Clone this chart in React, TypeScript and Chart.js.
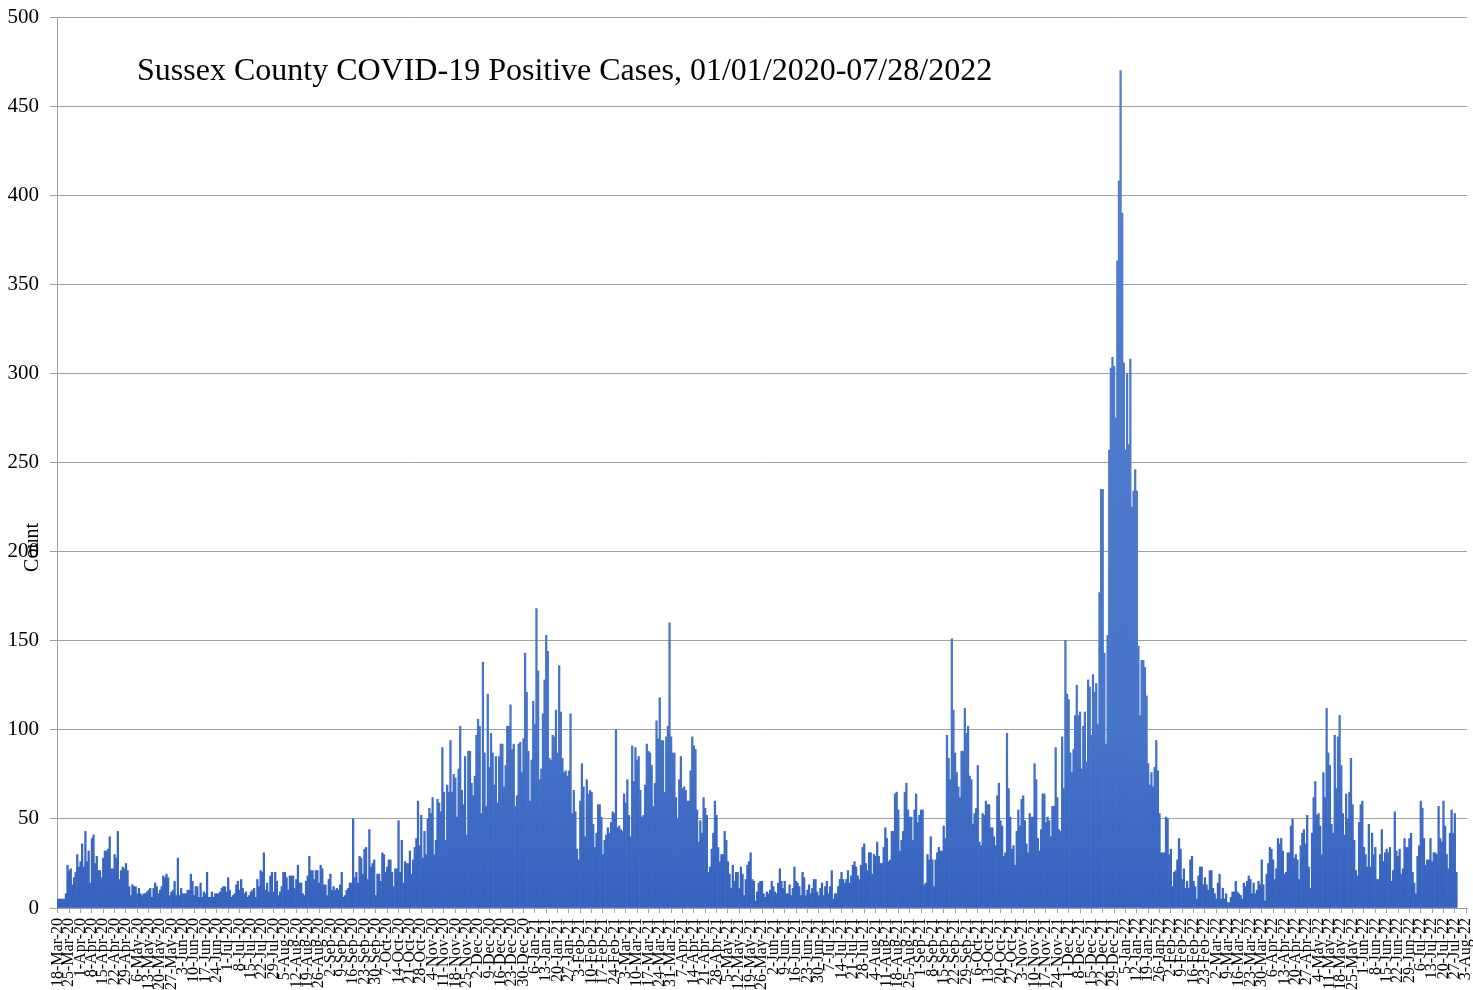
import { useEffect, useRef } from 'react';
import { Chart, registerables } from 'chart.js';

Chart.register(...registerables);

// ---- text ----
const CHART_TITLE = 'Sussex County COVID-19 Positive Cases, 01/01/2020-07/28/2022';
const Y_AXIS_TITLE = 'Count';

// ---- category axis: one category per day, 18-Mar-20 .. 3-Aug-22 ----
const MONTHS = ['Jan', 'Feb', 'Mar', 'Apr', 'May', 'Jun', 'Jul', 'Aug', 'Sep', 'Oct', 'Nov', 'Dec'];
const AXIS_START = Date.UTC(2020, 2, 18);
const AXIS_DAYS = 869;
const LABEL_EVERY = 7;
const categories: string[] = [];
for (let i = 0; i < AXIS_DAYS; i++) {
  const d = new Date(AXIS_START + i * 86400000);
  categories.push(`${d.getUTCDate()}-${MONTHS[d.getUTCMonth()]}-${String(d.getUTCFullYear()).slice(2)}`);
}

// ---- daily positive cases ----
// 18-Mar-20 .. 8-Aug-20
const casesMar20Aug20 = [
  5, 5, 5, 5, 5, 8, 24, 21, 22, 13,
  17, 20, 30, 23, 26, 36, 23, 43, 26, 32,
  14, 39, 41, 25, 29, 21, 21, 17, 28, 32,
  32, 33, 40, 22, 22, 30, 28, 43, 16, 21,
  23, 22, 25, 21, 12, 7, 13, 12, 12, 8,
  11, 8, 7, 8, 8, 9, 10, 11, 6, 11,
  14, 12, 8, 10, 12, 18, 17, 19, 17, 7,
  9, 10, 15, 7, 28, 7, 11, 8, 8, 8,
  10, 10, 19, 15, 7, 12, 12, 6, 14, 6,
  9, 8, 20, 6, 6, 9, 6, 8, 8, 8,
  9, 11, 12, 12, 9, 17, 10, 6, 7, 8,
  13, 15, 10, 16, 11, 8, 9, 6, 7, 9,
  10, 11, 6, 16, 12, 21, 20, 31, 10, 14,
  9, 18, 20, 9, 20, 15, 7, 9, 12, 20,
  20, 17, 10, 18,
];
// 9-Aug-20 .. 9-Nov-20
const casesAug20Nov20 = [
  18, 18, 11, 16, 24, 14, 14, 8, 7, 15,
  18, 29, 21, 21, 16, 21, 21, 14, 24, 22,
  13, 13, 7, 16, 19, 10, 12, 10, 11, 10,
  13, 20, 6, 7, 10, 11, 14, 14, 50, 17,
  20, 14, 29, 28, 19, 33, 34, 16, 44, 23,
  25, 27, 7, 19, 19, 15, 31, 30, 20, 23,
  27, 27, 20, 12, 22, 22, 49, 20, 38, 14,
  26, 25, 25, 32, 19, 27, 34, 39, 60, 35,
  52, 28, 43, 30, 50, 56, 53, 62, 30, 38,
  61, 59, 54,
];
// 10-Nov-20 .. 15-Feb-21
const casesNov20Feb21 = [
  90, 65, 38, 69, 65, 94, 65, 75, 73, 51,
  78, 102, 66, 58, 85, 41, 88, 88, 70, 63,
  74, 97, 106, 102, 53, 138, 87, 57, 120, 79,
  98, 87, 69, 85, 59, 85, 92, 92, 68, 80,
  102, 102, 114, 89, 92, 57, 63, 92, 93, 76,
  95, 143, 121, 88, 60, 83, 116, 103, 168, 133,
  72, 78, 109, 128, 153, 144, 84, 83, 97, 96,
  111, 87, 136, 110, 84, 76, 77, 74, 77, 109,
  53, 66, 54, 33, 27, 60, 81, 68, 40, 72,
  64, 66, 65, 47, 34, 42, 58, 58,
];
// 16-Feb-21 .. 18-May-21
const casesFeb21May21 = [
  51, 30, 38, 41, 45, 42, 48, 54, 53, 100,
  45, 46, 44, 43, 64, 59, 72, 52, 40, 91,
  71, 90, 83, 85, 66, 51, 52, 69, 92, 88,
  87, 80, 57, 70, 105, 95, 118, 94, 94, 65,
  96, 102, 160, 96, 87, 87, 62, 50, 72, 85,
  67, 68, 66, 60, 60, 77, 96, 91, 89, 55,
  37, 49, 42, 62, 56, 52, 20, 23, 33, 42,
  60, 52, 34, 26, 30, 30, 43, 38, 26, 19,
  11, 24, 15, 20, 20, 11, 23, 19, 7, 16,
  24, 26,
];
// 19-May-21 .. 16-Sep-21
const casesMay21Sep21 = [
  31, 16, 15, 4, 9, 14, 15, 15, 8, 6,
  9, 8, 10, 15, 12, 9, 8, 14, 22, 15,
  11,
  15, 8, 8, 13, 7, 11, 23, 15, 14, 12,
  7, 20, 17, 7, 10, 13, 8, 11, 16, 16,
  9,
  7, 11, 14, 7, 12, 15, 8, 12, 21, 5,
  8, 8, 12, 16, 20, 16, 14, 16, 21, 14,
  18,
  24, 26, 23, 18, 16, 24, 34, 36, 25, 21,
  31, 31, 19, 30, 29, 37, 29, 25, 25, 34,
  45, 39, 26, 27, 43, 43, 64, 65, 55, 32,
  38, 43, 65, 70, 55, 51, 51, 38, 55, 64,
  48,
  52, 55, 55, 13, 14, 30, 27, 40, 27, 12,
  27, 31, 34, 32, 32, 46, 39,
];
// 17-Sep-21 .. 15-Dec-21
const casesSep21Dec21 = [
  97, 84, 72, 151, 111, 87, 76, 68, 62, 88,
  88, 112, 98, 102, 74, 72, 47, 53, 56, 80,
  37, 35, 53, 52, 60, 58, 58, 45, 45, 40,
  35, 63, 70, 49, 46, 29, 31, 98, 67, 51,
  33, 35, 24, 43, 55, 46, 61, 63, 49, 36,
  31, 53, 51, 51, 81, 72, 39, 32, 44, 64,
  64, 48, 51, 49, 40, 57, 57, 90, 62, 44,
  43, 96, 67, 150, 120, 117, 87, 76, 89, 108,
  125, 108, 110, 78, 102, 110, 82, 128, 124, 97,
];
// 16-Dec-21 .. 21-Jan-22
const casesDec21Jan22 = [
  131, 121, 126, 103, 177, 235, 235, 143, 92, 153,
  257, 303, 309, 304, 275, 363, 408, 470, 390, 306,
  257, 300, 260, 308, 225, 234, 246, 234, 147, 108,
  139, 139, 135, 119, 81, 69, 76,
];
// 22-Jan-22 .. 25-Apr-22
const casesJan22Apr22 = [
  68, 79, 94, 77, 53, 31, 31, 31, 51, 50,
  30, 33, 12, 20, 21, 27, 39, 33, 16, 22,
  11, 15, 11, 27, 29, 15, 12, 5, 18, 23,
  23, 13, 17, 13, 10, 21, 21, 11, 8, 5,
  14, 19, 5, 11, 5, 8, 3, 3, 6, 9, 9,
  15, 9, 8, 7, 5, 14, 12, 15, 18, 16, 8,
  14, 8, 10, 15, 13, 27, 13, 4, 19, 25,
  34, 33, 27, 16, 22, 39, 36, 39, 32, 19,
  20, 31, 31, 46, 50, 28, 30, 27, 16, 35, 42,
  44,
];
// 26-Apr-22 .. 28-Jul-22
const casesApr22Jul22 = [
  36, 52, 23, 11, 42, 62, 71, 52, 53, 46,
  30, 76, 62, 112, 87, 80, 47, 42, 97, 67,
  96, 108, 80, 53, 41, 64, 50, 65, 84, 58,
  38, 21, 18, 48, 58, 60, 34, 30, 23, 47,
  23, 42, 30, 34, 16, 16, 30, 44, 26, 31,
  33, 31, 34, 15, 21, 54, 32, 29, 33, 19,
  22, 39, 34, 34, 39, 42, 20, 14, 8, 29,
  35, 60, 56, 39, 24, 27, 27, 39, 26, 31,
  31, 30, 57, 39, 37, 60, 46, 30, 22, 42,
  55, 42, 53, 20,
];

const Y_MIN = 0;
const Y_MAX = 500;
const Y_STEP = 50;

const FONT = "'Liberation Serif', 'Times New Roman', Times, serif";

export default function App() {
  const canvasRef = useRef<HTMLCanvasElement | null>(null);

  useEffect(() => {
    const canvas = canvasRef.current;
    if (!canvas) return;

    const daily: (number | null)[] = [
      ...casesMar20Aug20,
      ...casesAug20Nov20,
      ...casesNov20Feb21,
      ...casesFeb21May21,
      ...casesMay21Sep21,
      ...casesSep21Dec21,
      ...casesDec21Jan22,
      ...casesJan22Apr22,
      ...casesApr22Jul22,
    ];
    while (daily.length < categories.length) daily.push(null);

    const overlayText = {
      id: 'overlayText',
      afterDraw(chart: any) {
        const { ctx, chartArea } = chart;
        ctx.save();
        ctx.fillStyle = '#000000';
        ctx.font = `32px ${FONT}`;
        ctx.textAlign = 'left';
        ctx.textBaseline = 'alphabetic';
        ctx.fillText(CHART_TITLE, chartArea.left + 80, chartArea.top + 63);
        ctx.translate(33, (chartArea.top + chartArea.bottom) / 2 + 85);
        ctx.rotate(-Math.PI / 2);
        ctx.font = `20px ${FONT}`;
        ctx.textAlign = 'center';
        ctx.textBaseline = 'middle';
        ctx.fillText(Y_AXIS_TITLE, 0, 0);
        ctx.restore();
      },
    };

    let gradient: CanvasGradient | null = null;
    const barColor = (c: any) => {
      const { chart } = c;
      const area = chart.chartArea;
      if (!area) return '#4472C4';
      if (!gradient) {
        gradient = chart.ctx.createLinearGradient(0, area.bottom, 0, area.top);
        gradient.addColorStop(0, '#3462bf');
        gradient.addColorStop(0.2, '#4674c8');
        gradient.addColorStop(1, '#5680d2');
      }
      return gradient;
    };

    const chart = new Chart(canvas, {
      type: 'bar',
      data: {
        labels: categories,
        datasets: [
          {
            data: daily,
            backgroundColor: barColor,
            borderWidth: 0,
            barPercentage: 1,
            categoryPercentage: 1,
          },
        ],
      },
      options: {
        responsive: false,
        animation: false,
        events: [],
        layout: { padding: { top: 17, right: 6, left: 0, bottom: 0 } },
        plugins: {
          legend: { display: false },
          title: { display: false },
          tooltip: { enabled: false },
        },
        scales: {
          x: {
            type: 'category',
            offset: true,
            grid: {
              drawOnChartArea: false,
              drawTicks: true,
              tickLength: 5,
              offset: false,
              color: (c: any) => (c.index % LABEL_EVERY === 0 ? '#a0a0a0' : 'rgba(0,0,0,0)'),
            },
            border: { display: true, color: '#a0a0a0' },
            ticks: {
              autoSkip: false,
              minRotation: 90,
              maxRotation: 90,
              padding: 5,
              color: '#000000',
              font: { family: FONT, size: 16 },
              callback: (_v: any, i: number) => (i % LABEL_EVERY === 0 ? categories[i] : ''),
            },
            afterFit: (scale: any) => {
              scale.height = 82;
              scale.paddingLeft = 0;
              scale.paddingRight = 0;
            },
          },
          y: {
            min: Y_MIN,
            max: Y_MAX,
            grid: { color: '#a0a0a0', lineWidth: 1, tickLength: 7 },
            border: { display: true, color: '#a0a0a0' },
            ticks: {
              stepSize: Y_STEP,
              padding: 11,
              color: '#000000',
              font: { family: FONT, size: 21 },
            },
            afterFit: (scale: any) => {
              scale.width = 57;
              scale.paddingTop = 0;
              scale.paddingBottom = 0;
            },
          },
        },
      },
      plugins: [overlayText],
    } as any);

    return () => chart.destroy();
  }, []);

  return (
    <div style={{ position: 'fixed', left: 0, top: 0, width: 1473, height: 990, background: '#ffffff' }}>
      <canvas ref={canvasRef} width={1473} height={990} style={{ display: 'block' }} />
    </div>
  );
}
